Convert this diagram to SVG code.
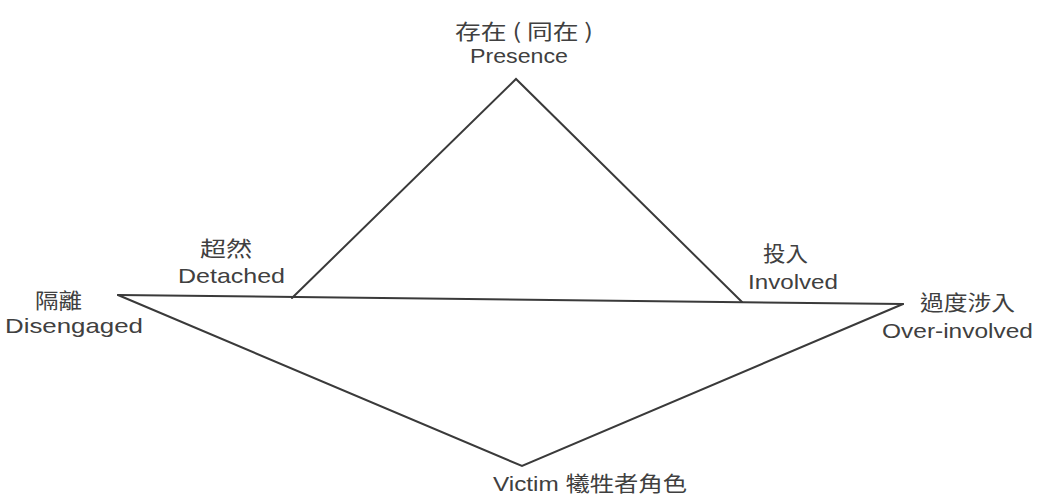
<svg xmlns="http://www.w3.org/2000/svg" width="1038" height="495" viewBox="0 0 1038 495">
<style>
.ln{fill:none;stroke:#3a3a3a;stroke-width:2;stroke-linejoin:miter;stroke-linecap:round}
.t{font-family:"Liberation Sans","Noto Sans CJK TC",sans-serif;font-size:21px;fill:#404040}
.c{font-family:"Noto Sans CJK TC","Liberation Sans",sans-serif;font-size:21px;fill:#404040}
</style>
<rect width="1038" height="495" fill="#ffffff"/>
<g id="connectors">
<polyline class="ln" points="292,298 516,79 742,302"/>
<line class="ln" x1="118" y1="295" x2="903" y2="304"/>
<polyline class="ln" points="118,295 522,466 903,304"/>
</g>
<g id="presence">
<text class="c" x="455" y="39" textLength="138" lengthAdjust="spacingAndGlyphs">存在 ( 同在 )</text>
<text class="t" x="470" y="63" textLength="98" lengthAdjust="spacingAndGlyphs">Presence</text>
</g>
<g id="detached">
<text class="c" x="200" y="256" textLength="52" lengthAdjust="spacingAndGlyphs">超然</text>
<text class="t" x="178" y="283" textLength="107" lengthAdjust="spacingAndGlyphs">Detached</text>
</g>
<g id="disengaged">
<text class="c" x="35" y="308" textLength="47" lengthAdjust="spacingAndGlyphs">隔離</text>
<text class="t" x="5" y="333" textLength="138" lengthAdjust="spacingAndGlyphs">Disengaged</text>
</g>
<g id="involved">
<text class="c" x="763" y="261" textLength="45" lengthAdjust="spacingAndGlyphs">投入</text>
<text class="t" x="748" y="289" textLength="90" lengthAdjust="spacingAndGlyphs">Involved</text>
</g>
<g id="over-involved">
<text class="c" x="920" y="310" textLength="95" lengthAdjust="spacingAndGlyphs">過度涉入</text>
<text class="t" x="882" y="338" textLength="151" lengthAdjust="spacingAndGlyphs">Over-involved</text>
</g>
<g id="victim">
<text class="t" x="493" y="491" textLength="194" lengthAdjust="spacingAndGlyphs">Victim 犧牲者角色</text>
</g>
</svg>
